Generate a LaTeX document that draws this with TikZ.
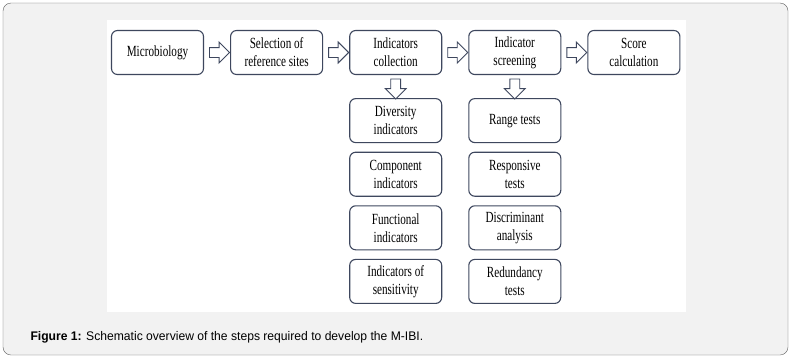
\documentclass[tikz,border=0pt]{standalone}
\usepackage{fontspec}
\setmainfont{Liberation Serif}
\newfontfamily\boxfont[FakeStretch=0.72]{Liberation Serif}
\newfontfamily\capfont[FakeStretch=0.97]{Liberation Sans}
\usepackage{xcolor}
\usepackage{tikz}
\usetikzlibrary{positioning,shapes.arrows}
\definecolor{boxline}{HTML}{3E475E}
\definecolor{panel}{HTML}{F2F2F2}
\definecolor{frameline}{HTML}{5C5C5C}

\begin{document}
\begin{tikzpicture}[
  x=1pt, y=-1pt,
  stage/.style={draw=boxline, line width=1.1pt, rounded corners=6pt, fill=white, minimum width=92pt, minimum height=44pt, inner sep=1pt, align=center, font=\boxfont\fontsize{15.5}{18}\selectfont},
  harrow/.style={draw=boxline, line width=0.9pt, fill=white, single arrow, single arrow head extend=5.5pt, inner xsep=0pt, inner ysep=4.5pt, minimum height=20pt, sloped},
]
\useasboundingbox (0,0) rectangle (793,360);
\draw[frameline, fill=panel, rounded corners=8pt] (3,3) rectangle (788,355);
\fill[white] (107,20) rectangle (686,312);
% main chain
\node[stage] (micro) at (157.5,52.5) {Microbiology};
\node[stage, right=26pt of micro] (sites) {Selection of\\reference sites};
\node[stage, right=26pt of sites] (coll) {Indicators\\collection};
\node[stage, right=26pt of coll] (screen) {Indicator\\screening};
\node[stage, right=26pt of screen] (score) {Score\\calculation};
% indicator types
\node[stage, below=23pt of coll] (div) {Diversity\\indicators};
\node[stage, below=8.5pt of div] (comp) {Component\\indicators};
\node[stage, below=8.5pt of comp] (func) {Functional\\indicators};
\node[stage, below=8.5pt of func] (sens) {Indicators of\\sensitivity};
% screening tests
\node[stage, below=23pt of screen] (range) {Range tests};
\node[stage, below=8.5pt of range] (resp) {Responsive\\tests};
\node[stage, below=8.5pt of resp] (discr) {Discriminant\\analysis};
\node[stage, below=8.5pt of discr] (redund) {Redundancy\\tests};
\path (micro) -- node[harrow] {} (sites);
\path (sites) -- node[harrow] {} (coll);
\path (coll) -- node[harrow] {} (screen);
\path (screen) -- node[harrow] {} (score);
\path (coll) -- node[harrow] {} (div);
\path (screen) -- node[harrow] {} (range);
\node[anchor=west, font=\capfont\fontsize{12.5}{14}\selectfont] (cap) at (27,337) {\textbf{Figure 1:} Schematic overview of the steps required to develop the M-IBI.};
\end{tikzpicture}
\end{document}
